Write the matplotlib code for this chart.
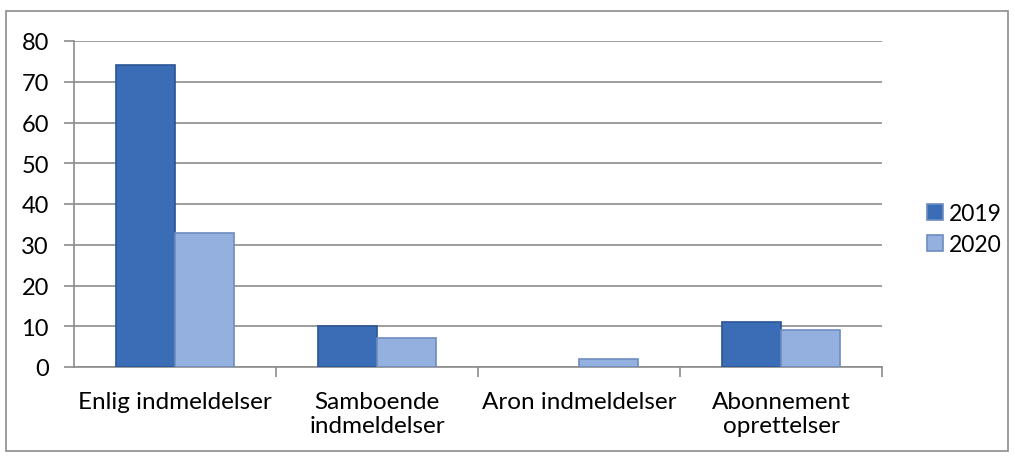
import matplotlib.pyplot as plt
import numpy as np
from matplotlib.patches import Rectangle

plt.rcParams['font.family'] = ['Lato', 'DejaVu Sans']

# Daten
kategorier = ['Enlig indmeldelser', 'Samboende\nindmeldelser', 'Aron indmeldelser', 'Abonnement\noprettelser']
v2019 = [74, 10, 0, 11]
v2020 = [33, 7, 2, 9]
aar = ['2019', '2020']

fig = plt.figure(figsize=(10.15, 4.6), dpi=100)
ax = fig.add_axes([74 / 1015, 1 - 368 / 460, 808 / 1015, 326 / 460])

x = np.arange(len(kategorier))
b = 0.29
ec1 = ['#2A5595' if v > 0 else 'none' for v in v2019]
ec2 = ['#6E8CC0' if v > 0 else 'none' for v in v2020]
ax.bar(x - b / 2, v2019, b, color='#3A6DB5', edgecolor=ec1, linewidth=1.2, label=aar[0], zorder=3)
ax.bar(x + b / 2, v2020, b, color='#93B0DE', edgecolor=ec2, linewidth=1.2, label=aar[1], zorder=3)

ax.set_xlim(-0.5, len(kategorier) - 0.5)
ax.set_ylim(0, 80)
ax.set_yticks(range(0, 81, 10))
ax.yaxis.grid(True, color='#8c8c8c', linewidth=1.2, zorder=0)
ax.set_xticks(x)
ax.set_xticklabels(kategorier, fontsize=17.5, linespacing=1.2)
ax.tick_params(axis='y', labelsize=17, length=7, color='#8c8c8c', width=1.2, pad=11)
ax.tick_params(axis='x', length=0, pad=17)
# Kategori-grænser
ax.set_xticks(np.arange(len(kategorier)) + 0.5, minor=True)
ax.tick_params(axis='x', which='minor', length=7, color='#8c8c8c', width=1.2)
for s in ['top', 'right']:
    ax.spines[s].set_visible(False)
for s in ['left', 'bottom']:
    ax.spines[s].set_color('#8c8c8c')
    ax.spines[s].set_linewidth(1.2)

leg = ax.legend(loc='center left', bbox_to_anchor=(1.03, 0.423), frameon=False, fontsize=16.5,
                handlelength=0.7, handleheight=0.7, handletextpad=0.25, labelspacing=0.45)
for h in leg.legend_handles:
    h.set_edgecolor('#2A5595' if h.get_label() == '2019' else '#6E8CC0')

# Ydre ramme
fig.patches.append(Rectangle((6 / 1015, 1 - 452 / 460), 1002 / 1015, 440 / 460, transform=fig.transFigure,
                             fill=False, edgecolor='#8c8c8c', linewidth=1.2))

fig.savefig('out.png', dpi=100)
